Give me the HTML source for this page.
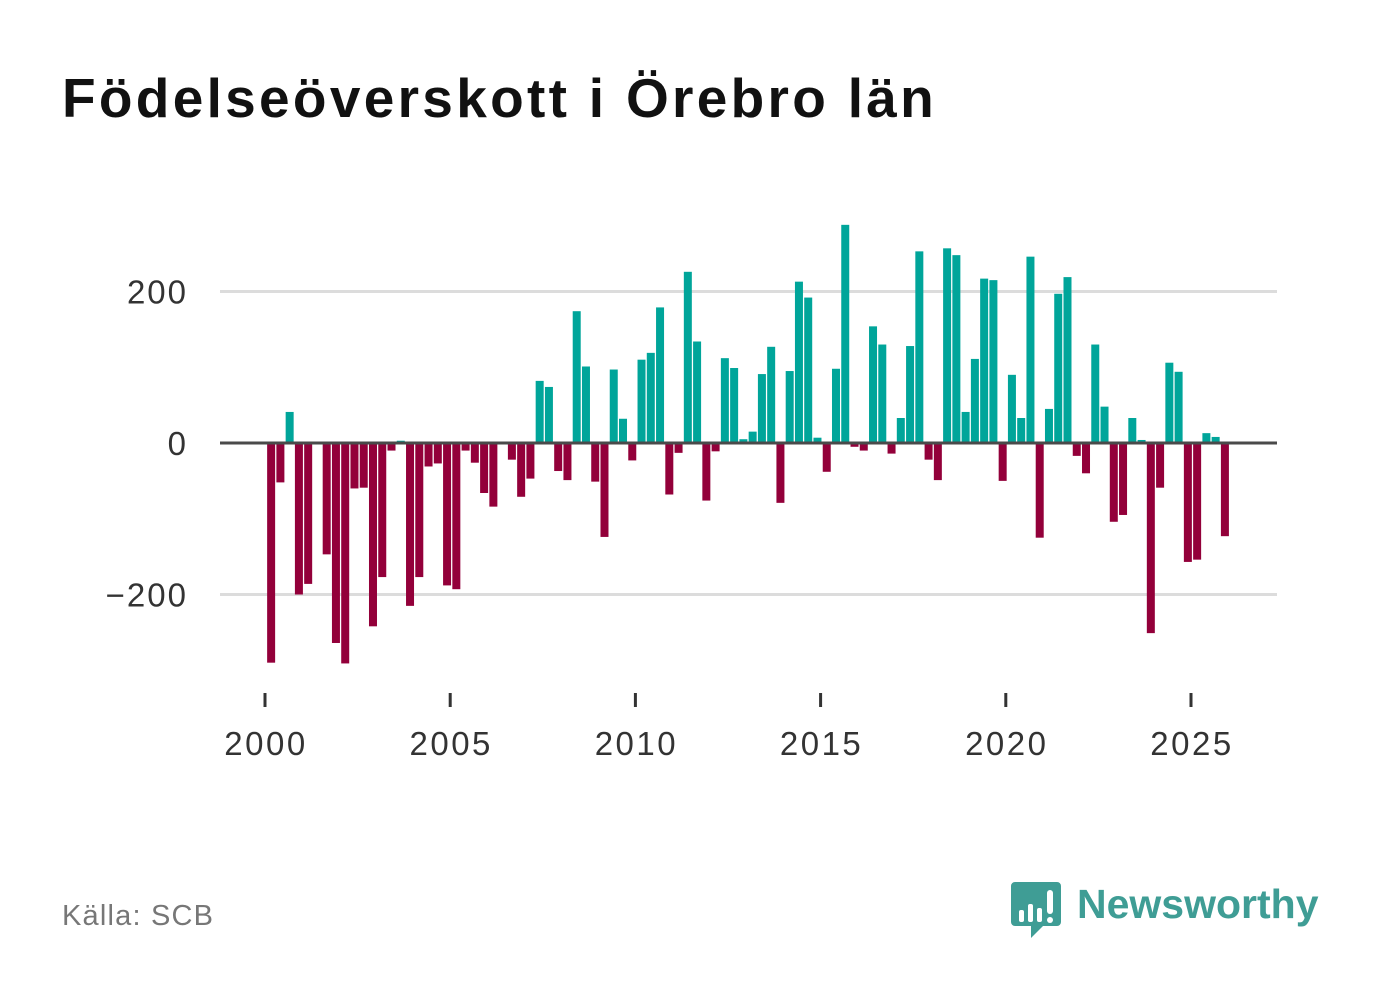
<!DOCTYPE html>
<html><head><meta charset="utf-8">
<style>
html,body{margin:0;padding:0;background:#fff;}
body{width:1382px;height:999px;overflow:hidden;position:relative;font-family:"Liberation Sans",sans-serif;}
#title{position:absolute;left:62px;top:66px;font-size:55px;font-weight:bold;color:#111;letter-spacing:3.3px;margin:0;white-space:nowrap;}
#source{position:absolute;left:62px;top:900px;font-size:29px;color:#777;letter-spacing:1.2px;}
#logo{position:absolute;left:1009px;top:880px;}
</style></head><body>
<h1 id="title">Födelseöverskott i Örebro län</h1>
<svg id="chart" width="1382" height="999" style="position:absolute;left:0;top:0"></svg>
<div id="source">Källa: SCB</div>
<svg id="logo" width="310" height="62">
  <path d="M2 2h46a4 4 0 0 1 4 4v36a4 4 0 0 1-4 4H34l-12 12v-12H6a4 4 0 0 1-4-4V6a4 4 0 0 1 4-4z" fill="#3f9d95"/>
  <rect x="10" y="30" width="5" height="12" rx="2" fill="#fff"/>
  <rect x="19" y="24" width="5" height="18" rx="2" fill="#fff"/>
  <rect x="28" y="28" width="5" height="14" rx="2" fill="#fff"/>
  <rect x="38" y="10" width="6" height="24" rx="3" fill="#fff"/>
  <circle cx="41" cy="40" r="3" fill="#fff"/>
  <text x="68" y="38" font-size="41" font-weight="bold" fill="#3f9d95" font-family="Liberation Sans, sans-serif">Newsworthy</text>
</svg>
<script>
const startYear = 2000;
const values = [-290,-52,41,-200,-186,null,-147,-264,-291,-60,-59,-242,-177,-10,3,-215,-177,-31,-27,-188,-193,-10,-26,-66,-84,null,-22,-71,-47,82,74,-37,-49,174,101,-51,-124,97,32,-23,110,119,179,-68,-13,226,134,-76,-11,112,99,5,15,91,127,-79,95,213,192,7,-38,98,288,-5,-10,154,130,-14,33,128,253,-22,-49,257,248,41,111,217,215,-50,90,33,246,-125,45,197,219,-17,-40,130,48,-104,-95,33,4,-251,-59,106,94,-157,-154,13,8,-123];
const yTicks = [-200,0,200];
const yTickLabels = ["\u2212200","0","200"];
const xTicks = [2000,2005,2010,2015,2020,2025];

const NS="http://www.w3.org/2000/svg";
const svg=document.getElementById('chart');
function xs(t){return 265+(t-2000)*37.04;}
function ys(v){return 443-v*0.7575;}
function mk(tag,attrs){const e=document.createElementNS(NS,tag);for(const k in attrs)e.setAttribute(k,attrs[k]);svg.appendChild(e);return e;}

yTicks.forEach((t,i)=>{
  if(t!==0){
    const g=mk('line',{x1:220,x2:1277,y1:ys(t),y2:ys(t),stroke:'#dcdcdc','stroke-width':3});
    
    
  }
  const l=mk('text',{x:188,y:ys(t)+12,'text-anchor':'end','font-size':33,'letter-spacing':2,fill:'#333'});
  l.textContent=yTickLabels[i];
  
  
});

values.forEach((v,i)=>{
  if(v===null) return;
  const cx=xs(startYear+i*0.25+0.125)+1.5;
  const y0=ys(0), y1=ys(v);
  const r=mk('rect',{x:cx-4,y:Math.min(y0,y1),width:8,height:Math.abs(y1-y0),fill:v>=0?'#00a59a':'#93003a'});
  
  
});

const z=mk('line',{x1:220,x2:1277,y1:ys(0),y2:ys(0),stroke:'#4a4a4a','stroke-width':3});



xTicks.forEach(t=>{
  const tk=mk('line',{x1:xs(t),x2:xs(t),y1:693,y2:707,stroke:'#333','stroke-width':3});
  
  
  const l=mk('text',{x:xs(t)+1,y:755,'text-anchor':'middle','font-size':33,'letter-spacing':2.5,fill:'#333'});
  l.textContent=t;
  
  
});
</script>
</body></html>
